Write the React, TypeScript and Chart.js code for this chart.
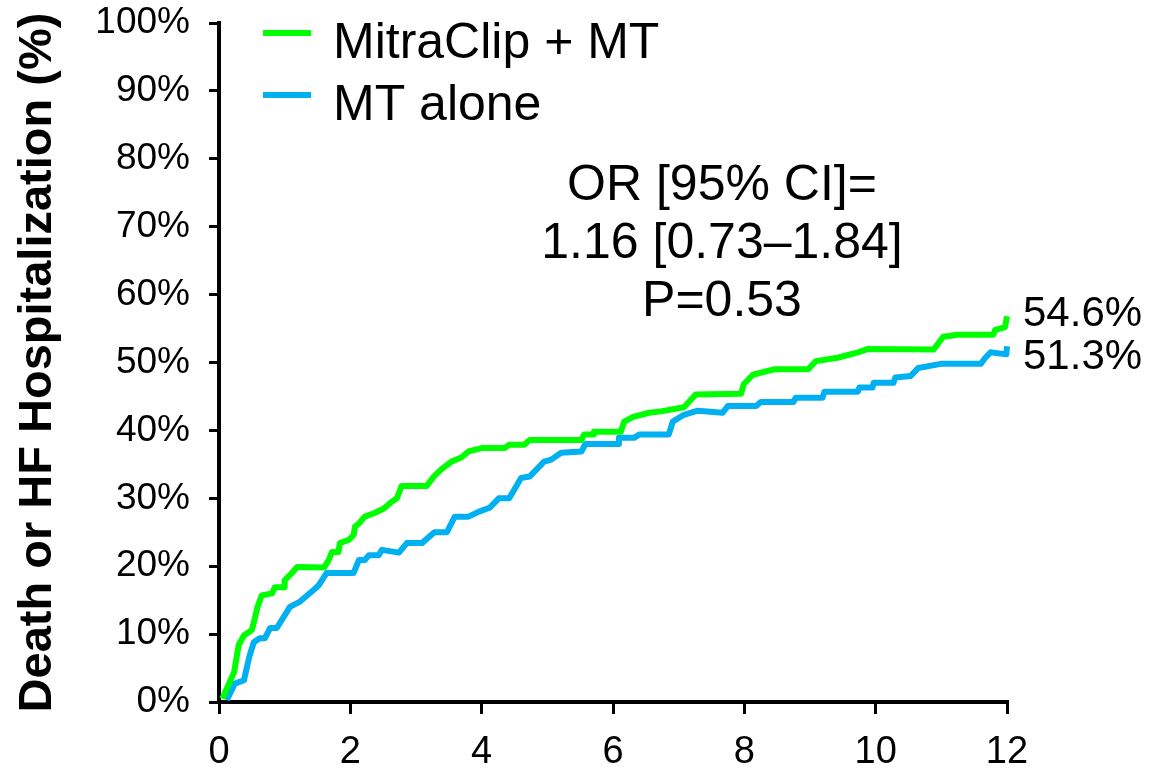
import React, { useEffect, useRef } from "react";
import { Chart, registerables } from "chart.js";

Chart.register(...registerables);

// ---- data ----
const xTicks = [0, 2, 4, 6, 8, 10, 12];
const yTicks = [0, 10, 20, 30, 40, 50, 60, 70, 80, 90, 100];
const seriesLabels = ["MitraClip + MT", "MT alone"];
const seriesColors = ["#00ff00", "#00b0f0"];

const clipMonths = [
  0.05, 0.23, 0.3, 0.38, 0.5, 0.55, 0.58, 0.65, 0.81, 0.85, 0.99, 1.0, 1.11, 1.19, 1.6, 1.67, 1.72, 1.82,
  1.84, 1.98, 2.05, 2.07, 2.13, 2.22, 2.36, 2.51, 2.63, 2.71, 2.78, 3.16, 3.28, 3.39, 3.54, 3.69, 3.8, 4.0,
  4.35, 4.42, 4.65, 4.73, 5.52, 5.56, 5.7, 5.71, 6.12, 6.17, 6.31, 6.55, 6.73, 7.08, 7.26, 7.95, 7.99, 8.13,
  8.45, 8.97, 9.09, 9.42, 9.73, 9.89, 10.88, 11.03, 11.25, 11.79, 11.82, 11.97, 12.0,
];
const clipPct = [
  0.5, 4.4, 8.4, 9.8, 10.6, 12.5, 13.8, 15.7, 16.0, 16.9, 16.9, 17.9, 19.0, 19.9, 19.8, 20.9, 22.1, 22.1,
  23.4, 23.9, 24.6, 25.8, 26.3, 27.3, 27.8, 28.5, 29.5, 30.0, 31.8, 31.8, 33.3, 34.3, 35.4, 36.0, 36.9, 37.4,
  37.4, 37.9, 37.9, 38.6, 38.6, 39.4, 39.4, 39.8, 39.8, 41.3, 42.0, 42.6, 42.8, 43.4, 45.3, 45.4, 46.8, 48.2,
  49.0, 49.0, 50.2, 50.7, 51.5, 52.0, 51.9, 53.8, 54.1, 54.1, 54.8, 55.2, 56.8,
];

const mtMonths = [
  0.12, 0.24, 0.38, 0.46, 0.53, 0.62, 0.7, 0.78, 0.88, 1.08, 1.22, 1.44, 1.52, 1.64, 2.05, 2.13, 2.22, 2.28,
  2.43, 2.48, 2.74, 2.86, 3.09, 3.28, 3.47, 3.59, 3.8, 3.95, 4.12, 4.26, 4.42, 4.6, 4.73, 4.95, 5.06, 5.21,
  5.52, 5.58, 6.08, 6.09, 6.32, 6.4, 6.85, 6.91, 7.08, 7.29, 7.67, 7.75, 8.18, 8.25, 8.75, 8.78, 9.19, 9.22,
  9.73, 9.75, 9.95, 9.97, 10.27, 10.3, 10.53, 10.65, 10.99, 11.6, 11.67, 11.75, 11.99, 12.0,
];
const mtPct = [
  0.3, 2.7, 3.2, 6.6, 8.8, 9.4, 9.4, 10.9, 10.9, 14.0, 14.7, 16.5, 17.2, 19.0, 19.0, 20.9, 20.9, 21.6,
  21.6, 22.4, 22.0, 23.4, 23.4, 25.0, 25.0, 27.3, 27.3, 28.0, 28.6, 30.0, 30.0, 33.0, 33.2, 35.4, 35.7, 36.7,
  36.9, 38.0, 38.0, 38.9, 38.9, 39.4, 39.4, 41.3, 42.3, 42.9, 42.6, 43.6, 43.6, 44.2, 44.2, 44.8, 44.8, 45.7,
  45.7, 46.3, 46.3, 47.0, 47.0, 47.8, 48.0, 49.2, 49.8, 49.8, 50.7, 51.5, 51.2, 52.4,
];

const endLabels = ["54.6%", "51.3%"];
const statsLines = ["OR [95% CI]=", "1.16 [0.73\u20131.84]", "P=0.53"];
const yTitle = "Death or HF Hospitalization (%)";

const FONT = "'Liberation Sans', Arial, Helvetica, sans-serif";

const overlayPlugin = {
  id: "overlay",
  afterDraw(chart: any) {
    const ctx = chart.ctx as CanvasRenderingContext2D;
    ctx.save();
    // legend
    const ds = chart.data.datasets;
    ds.forEach((d: any, i: number) => {
      const lineY = 33 + i * 62;
      ctx.strokeStyle = d.borderColor;
      ctx.lineWidth = 6;
      ctx.beginPath();
      ctx.moveTo(263, lineY);
      ctx.lineTo(311, lineY);
      ctx.stroke();
      ctx.fillStyle = "#000";
      ctx.font = `50px ${FONT}`;
      ctx.textAlign = "left";
      ctx.textBaseline = "alphabetic";
      ctx.fillText(d.label, 333, 58 + i * 62);
    });
    // stats text
    ctx.font = `50px ${FONT}`;
    ctx.textAlign = "center";
    ctx.fillStyle = "#000";
    statsLines.forEach((t, i) => {
      ctx.fillText(t, 722, 200 + i * 58);
    });
    // end labels
    ctx.font = `42px ${FONT}`;
    ctx.textAlign = "left";
    ctx.fillText(endLabels[0], 1023, 326);
    ctx.fillText(endLabels[1], 1023, 369);
    ctx.restore();
  },
};

export default function App() {
  const ref = useRef<HTMLCanvasElement | null>(null);
  useEffect(() => {
    if (!ref.current) return;
    const chart = new Chart(ref.current, {
      type: "line",
      data: {
        datasets: [
          {
            label: seriesLabels[0],
            data: clipMonths.map((x, i) => ({ x, y: clipPct[i] })),
            borderColor: seriesColors[0],
            backgroundColor: seriesColors[0],
            borderWidth: 6,
            pointRadius: 0,
            tension: 0,
            clip: false as any,
            borderJoinStyle: "round",
            borderCapStyle: "butt",
          },
          {
            label: seriesLabels[1],
            data: mtMonths.map((x, i) => ({ x, y: mtPct[i] })),
            borderColor: seriesColors[1],
            backgroundColor: seriesColors[1],
            borderWidth: 6,
            pointRadius: 0,
            tension: 0,
            clip: false as any,
            borderJoinStyle: "round",
            borderCapStyle: "butt",
          },
        ],
      },
      options: {
        responsive: false,
        animation: false,
        events: [],
        layout: { padding: { left: 0, top: 23, right: 147, bottom: 0 } },
        plugins: {
          legend: { display: false },
          tooltip: { enabled: false },
        },
        scales: {
          x: {
            type: "linear",
            min: 0,
            max: 12,
            afterBuildTicks: (scale: any) => {
              scale.ticks = xTicks.map((v) => ({ value: v }));
            },
            afterFit: (scale: any) => {
              scale.height = 69;
            },
            grid: {
              drawOnChartArea: false,
              drawTicks: true,
              tickLength: 12,
              color: "#000",
              lineWidth: 3,
            },
            border: { display: true, color: "#000", width: 4 },
            ticks: {
              color: "#000",
              font: { family: FONT, size: 38 },
              padding: 16,
              maxRotation: 0,
              autoSkip: false,
            },
          },
          y: {
            type: "linear",
            min: 0,
            max: 100,
            afterBuildTicks: (scale: any) => {
              scale.ticks = yTicks.map((v) => ({ value: v }));
            },
            afterFit: (scale: any) => {
              scale.width = 219;
              scale.paddingTop = 0;
              scale.paddingBottom = 0;
            },
            grid: {
              drawOnChartArea: false,
              drawTicks: true,
              tickLength: 10,
              color: "#000",
              lineWidth: 3,
            },
            border: { display: true, color: "#000", width: 4 },
            ticks: {
              color: "#000",
              font: { family: FONT, size: 37 },
              padding: 19,
              autoSkip: false,
              callback: (v: any) => `${v}%`,
            },
            title: {
              display: true,
              text: yTitle,
              color: "#000",
              font: { family: FONT, size: 47, weight: "bold" },
              padding: { top: 10, bottom: 0 },
            },
          },
        },
      },
      plugins: [overlayPlugin],
    });
    return () => chart.destroy();
  }, []);

  return (
    <div style={{ position: "absolute", left: 0, top: 0, width: 1154, height: 771, background: "#fff" }}>
      <canvas ref={ref} width={1154} height={771} style={{ display: "block", width: 1154, height: 771 }} />
    </div>
  );
}
